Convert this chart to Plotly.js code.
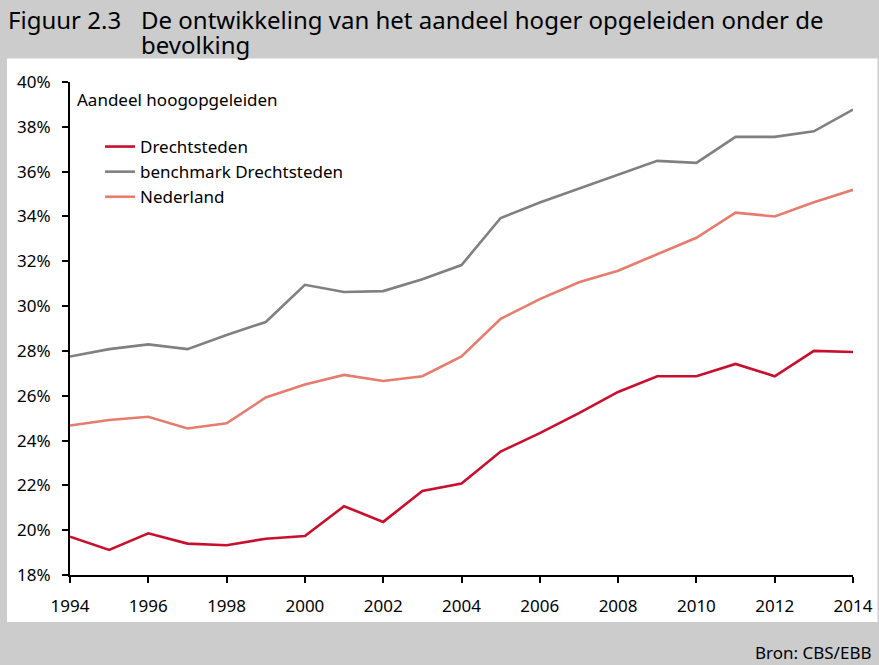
<!DOCTYPE html>
<html>
<head>
<meta charset="utf-8">
<script src="https://cdn.plot.ly/plotly-3.0.1.min.js"></script>
<style>
html,body{margin:0;padding:0;background:#cccccc;}
#chart{width:879px;height:665px;}
</style>
</head>
<body>
<div id="chart"></div>
<script>
// ---- data ----
var years = [1994,1995,1996,1997,1998,1999,2000,2001,2002,2003,2004,2005,2006,2007,2008,2009,2010,2011,2012,2013,2014];
var drechtsteden = [19.71,19.12,19.86,19.40,19.33,19.62,19.74,21.07,20.37,21.75,22.08,23.51,24.33,25.22,26.17,26.87,26.87,27.42,26.87,28.00,27.95];
var benchmark = [27.75,28.08,28.29,28.08,28.71,29.29,30.95,30.63,30.67,31.20,31.83,33.93,34.62,35.24,35.86,36.48,36.39,37.55,37.55,37.80,38.77];
var nederland = [24.67,24.92,25.06,24.54,24.77,25.92,26.50,26.93,26.66,26.87,27.75,29.43,30.31,31.06,31.58,32.31,33.05,34.17,34.00,34.63,35.19];
var seriesNames = ["Drechtsteden","benchmark Drechtsteden","Nederland"];
var yTickVals = [18,20,22,24,26,28,30,32,34,36,38,40];
var yTickText = ["18%","20%","22%","24%","26%","28%","30%","32%","34%","36%","38%","40%"];
var xTickVals = [1994,1996,1998,2000,2002,2004,2006,2008,2010,2012,2014];
var titleFig = "Figuur 2.3";
var titleLine1 = "De ontwikkeling van het aandeel hoger opgeleiden onder de";
var titleLine2 = "bevolking";
var yLabel = "Aandeel hoogopgeleiden";
var source = "Bron: CBS/EBB";

// ---- layout helpers (pixel -> paper) ----
var L = 70, R = 26, T = 82, B = 90, W = 879, H = 665;
var PW = W - L - R, PH = H - T - B;
function xp(px){ return (px - L) / PW; }
function yp(py){ return (H - B - py) / PH; }

var FONT = "Noto Sans, Open Sans, sans-serif";

var traces = [
  {x: years, y: drechtsteden, name: seriesNames[0], type: "scatter", mode: "lines",
   line: {color: "#c8102e", width: 2.6}},
  {x: years, y: benchmark, name: seriesNames[1], type: "scatter", mode: "lines",
   line: {color: "#808080", width: 2.6}},
  {x: years, y: nederland, name: seriesNames[2], type: "scatter", mode: "lines",
   line: {color: "#e67c6e", width: 2.6}}
];

var layout = {
  width: W, height: H,
  margin: {l: L, r: R, t: T, b: B, pad: 0},
  paper_bgcolor: "#cccccc",
  plot_bgcolor: "#ffffff",
  font: {family: FONT, size: 17, color: "#000000"},
  showlegend: true,
  legend: {
    x: xp(100), y: yp(129), xanchor: "left", yanchor: "top",
    bgcolor: "rgba(0,0,0,0)", borderwidth: 0,
    font: {family: FONT, size: 17, color: "#000"},
    traceorder: "normal"
  },
  xaxis: {
    range: [1994, 2014], tickmode: "array", tickvals: xTickVals,
    showgrid: false, zeroline: false, showline: true, linecolor: "#000", linewidth: 2,
    ticks: "outside", ticklen: 6, tickwidth: 2, tickcolor: "#000",
    ticklabelstandoff: 9,
    tickfont: {family: FONT, size: 17, color: "#000"}, fixedrange: true
  },
  yaxis: {
    range: [18, 40], tickmode: "array", tickvals: yTickVals, ticktext: yTickText,
    showgrid: false, zeroline: false, showline: true, linecolor: "#000", linewidth: 2,
    ticks: "outside", ticklen: 6, tickwidth: 2, tickcolor: "#000",
    ticklabelstandoff: 8,
    tickfont: {family: FONT, size: 17, color: "#000"}, fixedrange: true
  },
  shapes: [
    {type: "rect", xref: "paper", yref: "paper", layer: "below",
     x0: xp(7), x1: xp(877.5), y0: yp(622), y1: yp(58.5),
     fillcolor: "#ffffff", line: {width: 0}}
  ],
  annotations: [
    {xref: "paper", yref: "paper", x: xp(6), y: yp(1), xanchor: "left", yanchor: "top",
     text: titleFig, showarrow: false, align: "left",
     font: {family: FONT, size: 24, color: "#000"}},
    {xref: "paper", yref: "paper", x: xp(139), y: yp(1), xanchor: "left", yanchor: "top",
     text: titleLine1, showarrow: false, align: "left",
     font: {family: FONT, size: 24, color: "#000"}},
    {xref: "paper", yref: "paper", x: xp(139), y: yp(26), xanchor: "left", yanchor: "top",
     text: titleLine2, showarrow: false, align: "left",
     font: {family: FONT, size: 24, color: "#000"}},
    {xref: "paper", yref: "paper", x: xp(75), y: yp(86), xanchor: "left", yanchor: "top",
     text: yLabel, showarrow: false, align: "left",
     font: {family: FONT, size: 17, color: "#000"}},
    {xref: "paper", yref: "paper", x: xp(874), y: yp(666), xanchor: "right", yanchor: "bottom",
     text: source, showarrow: false, align: "right",
     font: {family: FONT, size: 17, color: "#000"}}
  ]
};

Plotly.newPlot("chart", traces, layout, {displayModeBar: false, staticPlot: true});
</script>
</body>
</html>
